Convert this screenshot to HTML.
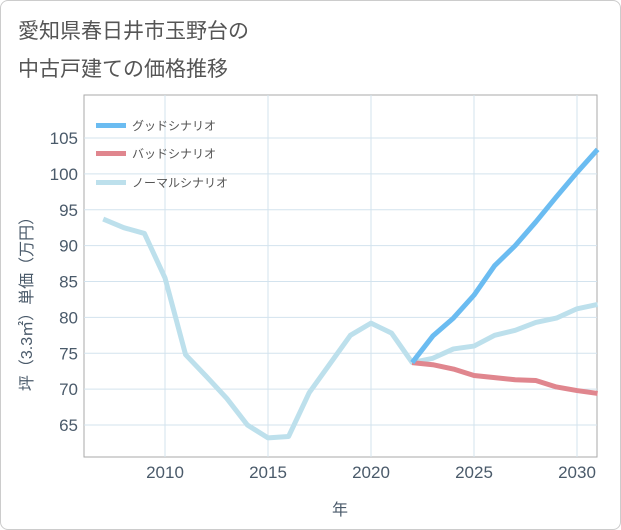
<!DOCTYPE html>
<html><head><meta charset="utf-8"><style>
body{margin:0;background:#fff;font-family:"Liberation Sans","Noto Sans CJK JP",sans-serif}
.card{position:absolute;left:0;top:0;width:619px;height:528px;border:1px solid #ccc;border-radius:8px;background:#fff}
</style></head><body>
<div class="card"></div>
<svg width="621" height="530" style="position:absolute;left:0;top:0" font-family="Liberation Sans, Noto Sans CJK JP, sans-serif">
<text x="18" y="38" font-size="21" fill="#555">愛知県春日井市玉野台の</text>
<text x="18" y="76" font-size="21" fill="#555">中古戸建ての価格推移</text>
<rect x="84" y="95" width="513" height="362" fill="#fff" stroke="#aaa"/>
<g id="grid"></g><g id="ticks"></g><g id="lines"></g>
<g>
<rect x="96" y="123" width="30" height="5" fill="#6bbcf1"/><text x="132" y="130" font-size="12" fill="#555">グッドシナリオ</text>
<rect x="96" y="151" width="30" height="5" fill="#e0868e"/><text x="132" y="158" font-size="12" fill="#555">バッドシナリオ</text>
<rect x="96" y="180" width="30" height="5" fill="#bde0ec"/><text x="132" y="187" font-size="12" fill="#555">ノーマルシナリオ</text>
</g>
<text x="340" y="515" font-size="16" fill="#4a5a6a" text-anchor="middle">年</text>
<text transform="translate(32,300) rotate(-90)" font-size="16" fill="#4a5a6a" text-anchor="middle">坪（3.3㎡）単価（万円）</text>
</svg>
<script>
const years=[2007,2008,2009,2010,2011,2012,2013,2014,2015,2016,2017,2018,2019,2020,2021,2022,2023,2024,2025,2026,2027,2028,2029,2030,2031];
const normal=[93.7,92.5,91.7,85.5,74.8,71.8,68.7,65.0,63.2,63.4,69.5,73.5,77.5,79.2,77.8,73.7,74.3,75.6,76.0,77.5,78.2,79.3,79.9,81.2,81.8];
const goodYears=[2022,2023,2024,2025,2026,2027,2028,2029,2030,2031];
const good=[73.7,77.4,79.9,83.1,87.2,90.0,93.3,96.8,100.2,103.4];
const bad=[73.7,73.4,72.8,71.9,71.6,71.3,71.2,70.3,69.8,69.4];
const xTicks=[2010,2015,2020,2025,2030];
const yTicks=[65,70,75,80,85,90,95,100,105];
const X=y=>165+(y-2010)*20.6, Y=v=>425-(v-65)*7.175;
const NS="http://www.w3.org/2000/svg";
function mk(t,a,p){const e=document.createElementNS(NS,t);for(const k in a)e.setAttribute(k,a[k]);p.appendChild(e);return e;}
const g=document.getElementById('grid'),tk=document.getElementById('ticks'),L=document.getElementById('lines');
xTicks.forEach(t=>{const l=mk('line',{x1:X(t),x2:X(t),y1:95,y2:457,stroke:'#d3e3ee'},g);

const s=mk('text',{x:X(t),y:478,'font-size':17,fill:'#4a5a6a','text-anchor':'middle'},tk);s.textContent=t;
});
yTicks.forEach(t=>{const l=mk('line',{x1:84,x2:597,y1:Y(t),y2:Y(t),stroke:'#d3e3ee'},g);

const s=mk('text',{x:78,y:Y(t)+6,'font-size':17,fill:'#4a5a6a','text-anchor':'end'},tk);s.textContent=t;
});
function line(xs,vs,c,n){const d=xs.map((x,i)=>(i?'L':'M')+X(x)+','+Y(vs[i])).join('');
const p=mk('path',{d:d,fill:'none',stroke:c,'stroke-width':5,'stroke-linejoin':'round'},L);
}
line(years,normal,'#bde0ec','normal-scenario-line');
line(goodYears,bad,'#e0868e','bad-scenario-line');
line(goodYears,good,'#6bbcf1','good-scenario-line');
</script>
</body></html>
